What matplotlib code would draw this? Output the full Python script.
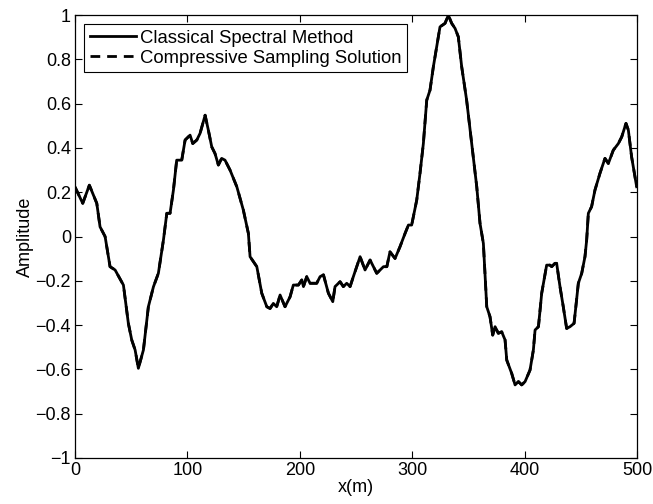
import matplotlib
matplotlib.use("Agg")
import matplotlib.pyplot as plt

plt.rcParams['font.family'] = ['Liberation Sans', 'DejaVu Sans']

x_m = [0, 6.8, 12.7, 19.3, 22.2, 26.7, 31.1, 35.6, 43, 47.4, 50.4, 53.4, 56.3, 60.8, 65.2,
       69.7, 74.1, 78.6, 81.6, 84.5, 87.5, 90.4, 94.9, 97.9, 102.3, 104.7, 108.3, 111.2,
       115.7, 118.6, 121.6, 124.5, 127.5, 130.4, 133.4, 137.9, 143.9, 149.7, 154.2, 155.7,
       161.7, 166.1, 170.6, 173.5, 176.4, 179.4, 182.4, 186.8, 191.3, 194.2, 198.7, 201.7,
       203.2, 206.1, 209.1, 215, 218, 221, 225.4, 229.3, 231.3, 235.8, 238.7, 241.7, 244.7,
       247.6, 253.6, 258, 262.5, 268.4, 274.4, 277.4, 280.2, 284.7, 289.1, 293.6, 296.6,
       299.5, 304, 306.9, 309.9, 312.9, 315.8, 318.8, 321.8, 324.7, 329.2, 332.1, 335.1,
       338.1, 341, 344, 348.4, 352.9, 357.4, 360.3, 363.3, 366.3, 369.2, 371.6, 373.7,
       376.6, 379.6, 382.6, 384.1, 388.5, 391.5, 394.5, 397.4, 400.4, 404.8, 407.8, 409.3,
       412.3, 415.2, 419.6, 422.6, 424.1, 427, 428.5, 431.5, 434.4, 437.4, 440.4, 444,
       447.8, 450.8, 453.7, 455.2, 456.7, 459.6, 462.6, 467, 471.5, 474.5, 478.9, 483.4,
       486.4, 490.2, 492.3, 495.2, 499.7]

classical = [0.223, 0.15, 0.232, 0.15, 0.044, 0.0, -0.136, -0.151, -0.219, -0.392, -0.467,
             -0.512, -0.595, -0.512, -0.317, -0.227, -0.166, -0.016, 0.105, 0.105, 0.21,
             0.345, 0.345, 0.436, 0.458, 0.42, 0.436, 0.466, 0.548, 0.48, 0.405, 0.375,
             0.323, 0.353, 0.345, 0.3, 0.225, 0.12, 0.014, -0.091, -0.136, -0.256, -0.317,
             -0.325, -0.302, -0.317, -0.264, -0.317, -0.272, -0.219, -0.219, -0.196, -0.226,
             -0.181, -0.211, -0.211, -0.181, -0.173, -0.256, -0.294, -0.226, -0.204, -0.226,
             -0.211, -0.226, -0.181, -0.091, -0.151, -0.106, -0.166, -0.136, -0.136, -0.069,
             -0.099, -0.046, 0.014, 0.052, 0.052, 0.165, 0.285, 0.42, 0.616, 0.661, 0.767,
             0.857, 0.947, 0.963, 1.0, 0.963, 0.94, 0.902, 0.767, 0.616, 0.42, 0.225, 0.06,
             -0.031, -0.317, -0.362, -0.445, -0.407, -0.437, -0.43, -0.467, -0.558, -0.618,
             -0.67, -0.655, -0.67, -0.655, -0.603, -0.512, -0.422, -0.407, -0.256, -0.129,
             -0.129, -0.136, -0.121, -0.121, -0.227, -0.317, -0.415, -0.407, -0.392, -0.211,
             -0.166, -0.091, -0.016, 0.105, 0.135, 0.21, 0.285, 0.353, 0.33, 0.39, 0.42,
             0.45, 0.511, 0.481, 0.36, 0.225]

compressive = list(classical)

x_ticks = [0, 100, 200, 300, 400, 500]
y_ticks = [-1, -0.8, -0.6, -0.4, -0.2, 0, 0.2, 0.4, 0.6, 0.8, 1]
y_ticklabels = ['\u22121', '\u22120.8', '\u22120.6', '\u22120.4', '\u22120.2', '0',
                '0.2', '0.4', '0.6', '0.8', '1']

fig = plt.figure(figsize=(6.53, 5.04), dpi=100)
ax = fig.add_axes([0.115, 0.0913, 0.8605, 0.8787])

ax.plot(x_m, classical, color='black', lw=2.0, ls='-', label='Classical Spectral Method')
ax.plot(x_m, compressive, color='black', lw=2.0, ls='--', dashes=(3.5, 2.5),
        label='Compressive Sampling Solution')

ax.set_xlim(0, 500)
ax.set_ylim(-1, 1)
ax.set_xticks(x_ticks)
ax.set_yticks(y_ticks)
ax.set_yticklabels(y_ticklabels)
ax.tick_params(direction='in', top=True, right=True, length=5, width=0.8,
               labelsize=13, pad=3)
for s in ax.spines.values():
    s.set_linewidth(0.9)

ax.set_xlabel('x(m)', fontsize=13, labelpad=0)
ax.set_ylabel('Amplitude', fontsize=13, labelpad=1)

leg = ax.legend(loc='upper left', fontsize=13.3, frameon=True, fancybox=False,
                edgecolor='black', framealpha=1, handlelength=2.5, handletextpad=0.2,
                borderpad=0.3, labelspacing=0.15, borderaxespad=0.5)
leg.get_frame().set_linewidth(0.8)

fig.savefig('out.png', dpi=100)
